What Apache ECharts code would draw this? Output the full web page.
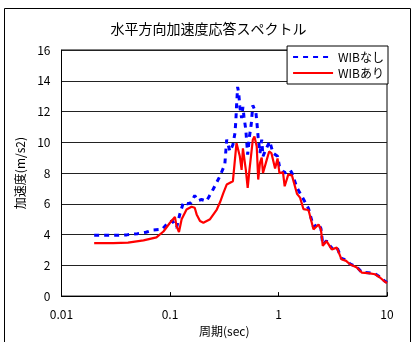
<!DOCTYPE html>
<html><head><meta charset="utf-8">
<script src="https://cdn.jsdelivr.net/npm/echarts@6/dist/echarts.min.js"></script>
<style>html,body{margin:0;padding:0;background:#fff}#c{width:417px;height:342px}</style>
</head><body><div id="c"></div>
<script>
const titleText = "水平方向加速度応答スペクトル";
const xName = "周期(sec)";
const yName = "加速度(m/s2)";
const xTickLabels = {"0.01":"0.01","0.1":"0.1","1":"1","10":"10"};
const seriesNames = ["WIBなし","WIBあり"];

const bluePeriods = [0.02,0.03,0.04,0.05,0.06,0.07,0.085,0.096,0.105,0.115,0.123,0.133,0.145,0.156,0.169,0.18,0.195,0.217,0.25,0.288,0.32,0.333,0.357,0.38,0.397,0.405,0.41,0.42,0.43,0.44,0.457,0.47,0.48,0.5,0.52,0.54,0.56,0.58,0.62,0.635,0.65,0.675,0.70,0.72,0.76,0.83,0.89,0.98,1.02,1.14,1.28,1.33,1.48,1.7,1.89,2.1,2.34,2.46,2.56,2.77,3.1,3.45,3.8,4.2,4.55,5.27,5.85,6.7,7.77,8.6,9.6,10];
const blueAcc = [3.95,3.95,3.98,4.06,4.15,4.3,4.35,4.77,4.9,4.45,5.31,6.1,6.0,6.07,6.54,6.2,6.28,6.17,6.95,7.79,8.55,10.17,9.41,9.84,10.6,11.46,12.3,13.6,13.2,12.3,11.57,12.3,11.7,10.8,9.2,10.38,11.14,12.4,11.9,11.14,10.28,9.3,10.17,9.09,9.5,10.06,9.3,9.09,8.44,8.0,8.2,8.0,7.04,6.3,5.7,4.5,4.7,4.4,3.35,3.6,3.1,3.2,2.45,2.35,2.1,1.9,1.55,1.52,1.45,1.25,0.96,0.88];

const redPeriods = [0.02,0.03,0.041,0.057,0.075,0.087,0.1,0.111,0.115,0.121,0.128,0.142,0.158,0.169,0.176,0.189,0.203,0.234,0.27,0.289,0.31,0.333,0.38,0.41,0.427,0.44,0.457,0.47,0.485,0.5,0.52,0.54,0.58,0.6,0.63,0.65,0.675,0.70,0.72,0.75,0.78,0.82,0.86,0.93,0.98,1.02,1.1,1.14,1.23,1.33,1.48,1.58,1.7,1.89,2.1,2.34,2.46,2.56,2.77,3.1,3.45,3.8,4.2,4.55,5.27,5.85,6.7,7.77,8.6,9.6,10];
const redAcc = [3.45,3.45,3.48,3.62,3.82,4.2,4.77,5.14,4.55,4.17,4.99,5.63,5.81,5.74,5.31,4.88,4.77,5.0,5.63,6.1,6.7,7.25,7.47,9.95,10.06,9.09,8.2,9.6,9.5,8.2,7.04,8.2,10.17,10.38,9.73,7.58,8.66,9.0,8.0,8.0,8.87,9.4,9.3,8.3,8.95,8.0,8.05,7.14,7.9,7.85,6.65,6.4,5.65,5.6,4.34,4.66,4.34,3.26,3.58,3.04,3.15,2.4,2.29,2.07,1.86,1.53,1.49,1.42,1.21,0.93,0.85];

const font = "'Noto Sans CJK JP', sans-serif";
const chart = echarts.init(document.getElementById('c'), null, {renderer:'canvas'});
const pair = (xs, ys) => xs.map((x,i)=>[x, ys[i]]);
chart.setOption({
  animation:false,
  backgroundColor:'#fff',
  title:{text:titleText,left:'center',top:17,textStyle:{fontFamily:font,fontSize:14,fontWeight:'normal',color:'#000'}},
  grid:{left:61.5,right:30,top:50,bottom:45,show:true,borderColor:'#000',borderWidth:1,backgroundColor:'transparent'},
  legend:{
    orient:'vertical',right:29,top:46,
    backgroundColor:'#fff',borderColor:'#000',borderWidth:1,borderRadius:0,
    padding:[5,4,5,5],itemGap:4,itemWidth:40,itemHeight:12,
    itemStyle:{opacity:0},
    textStyle:{fontFamily:font,fontSize:12,color:'#000'},
    data:seriesNames
  },
  xAxis:{
    type:'log',logBase:10,min:0.01,max:10,
    name:xName,nameLocation:'middle',nameGap:28,
    nameTextStyle:{fontFamily:font,fontSize:12,color:'#000'},
    axisLine:{lineStyle:{color:'#000',width:1}},
    axisTick:{show:true,inside:true,length:4,lineStyle:{color:'#000'}},
    minorTick:{show:false},
    splitLine:{show:false},
    axisLabel:{margin:12,fontFamily:font,fontSize:12,color:'#000',
      formatter:v=>{const k=String(+v.toPrecision(6));return xTickLabels[k]!==undefined?xTickLabels[k]:k;}}
  },
  yAxis:{
    type:'value',min:0,max:16,interval:2,
    name:yName,nameLocation:'middle',nameGap:31,nameRotate:90,
    nameTextStyle:{fontFamily:font,fontSize:12,color:'#000'},
    axisLine:{show:true,lineStyle:{color:'#000',width:1}},
    axisTick:{show:false},
    splitLine:{show:true,lineStyle:{color:'#222',width:1}},
    axisLabel:{margin:11,fontFamily:font,fontSize:12,color:'#000'}
  },
  series:[
    {name:seriesNames[0],type:'line',data:pair(bluePeriods,blueAcc),symbol:'none',z:3,
     lineStyle:{color:'#0000ff',width:3,type:[5,5]},itemStyle:{color:'#0000ff'}},
    {name:seriesNames[1],type:'line',data:pair(redPeriods,redAcc),symbol:'none',z:4,
     lineStyle:{color:'#ff0000',width:2.2},itemStyle:{color:'#ff0000'}}
  ],
  graphic:[{type:'rect',shape:{x:4.5,y:8.5,width:406,height:345},style:{fill:null,stroke:'#000',lineWidth:1},silent:true,z:-1}]
});
</script></body></html>
